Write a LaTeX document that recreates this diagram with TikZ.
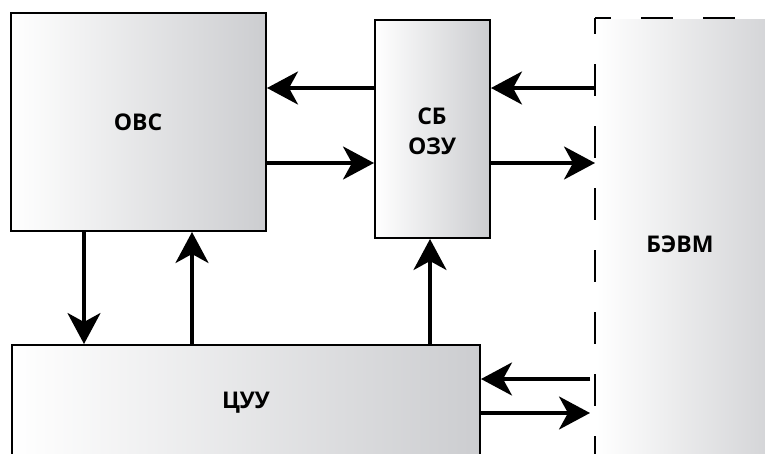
\documentclass[tikz,border=0pt]{standalone}
\usepackage{fontspec}
\setmainfont{Open Sans}
\usetikzlibrary{arrows.meta,calc}
\definecolor{gradR}{RGB}{204,205,208}
\begin{document}
\begin{tikzpicture}[x=1pt,y=-1pt,
  blk/.style={draw=black,line width=2pt,left color=white,right color=gradR,inner sep=0pt},
  arr/.style={line width=3.6pt,-{Stealth[length=31pt,width=33pt,inset=9pt]}},
  lbl/.style={font=\bfseries\fontsize{23}{30}\selectfont,align=center},
  dsh/.style={line width=2.4pt,dash pattern=on 32pt off 30pt,dash phase=16pt}]
\useasboundingbox (0,0) rectangle (765,453);
\clip (0,0) rectangle (765,453);
\fill[white] (0,0) rectangle (765,453);
% БЭВМ
\node[blk,draw=none,minimum width=204pt,minimum height=461pt] (bevm) at (698,249.5) {};
\node[lbl] (bevmt) at (680,244) {БЭВМ};
\draw[dsh] (bevm.north west) -- (bevm.south west);
\draw[dsh] (bevm.north west) -- (bevm.north east);
% boxes
\node[blk,minimum width=255pt,minimum height=218pt] (ovs) at (138.5,122) {};
\node[lbl] (ovst) at (138,122) {ОВС};
\node[blk,minimum width=115pt,minimum height=218pt] (sb) at (432.5,129) {};
\node[lbl] (sbt) at (432,131) {СБ\\ОЗУ};
\node[blk,minimum width=468pt,minimum height=130pt] (cuu) at (246,410) {};
\node[lbl] (cuut) at (246,403) {ЦУУ};
% arrows
\draw[arr] (sb.west |- 0,88) -- (ovs.east |- 0,88);
\draw[arr] (ovs.east |- 0,163) -- (sb.west |- 0,163);
\draw[arr] (bevm.west |- 0,88) -- (sb.east |- 0,88);
\draw[arr] (sb.east |- 0,163) -- (bevm.west |- 0,163);
\draw[arr] (ovs.south -| 84,0) -- (cuu.north -| 84,0);
\draw[arr] (cuu.north -| 192,0) -- (ovs.south -| 192,0);
\draw[arr] (cuu.north -| 430,0) -- (sb.south -| 430,0);
\coordinate (p1) at (590,379);
\coordinate (p2) at (590,413);
\draw[arr] (p1) -- (cuu.east |- p1);
\draw[arr] (cuu.east |- p2) -- (p2);
\end{tikzpicture}
\end{document}
